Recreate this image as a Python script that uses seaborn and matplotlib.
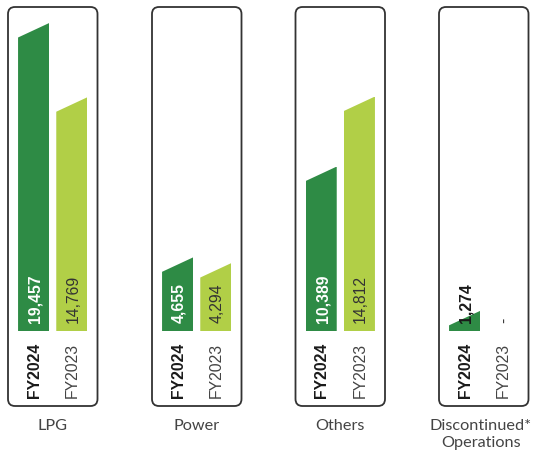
import numpy as np
import pandas as pd
import matplotlib
matplotlib.use("Agg")
import matplotlib.pyplot as plt
import seaborn as sns
from matplotlib.patches import FancyBboxPatch, Polygon
from matplotlib.transforms import IdentityTransform

# Segment results (FY2024 vs FY2023)
segments = ["LPG", "Power", "Others", "Discontinued*\nOperations"]
years = ["FY2024", "FY2023"]
fy2024 = [19457, 4655, 10389, 1274]
fy2023 = [14769, 4294, 14812, np.nan]

dark_green = "#2E8B45"
light_green = "#B1CF47"

df = pd.DataFrame({
    "segment": np.repeat(segments, 2),
    "year": years * len(segments),
    "value": [v for pair in zip(fy2024, fy2023) for v in pair],
})

sns.set_theme(style="white")
plt.rcParams["font.family"] = ["Liberation Sans", "DejaVu Sans"]

W, H = 534, 456
fig = plt.figure(figsize=(W / 100, H / 100), dpi=100)

# layout in pixels (from the top edge)
box_left = [8, 152, 295.5, 439]
box_w = 89.5
box_top, box_bottom = 8, 407
base = 332
px_per_unit = 0.01583
ymax = (base - box_top) / px_per_unit
slant_px = 14.5
label_shift = [0, 0, 0, -3]

for i, seg in enumerate(segments):
    ax = fig.add_axes([box_left[i] / W, (H - base) / H, box_w / W, (base - box_top) / H])
    sub = df[df["segment"] == seg]
    sns.barplot(data=sub, x="year", y="value", hue="year", order=years, hue_order=years,
                palette=[dark_green, light_green], width=31 / 38, saturation=1,
                errorbar=None, legend=False, linewidth=0, ax=ax)
    ax.set_xlim(-0.671, 1.671)
    ax.set_ylim(0, ymax)
    ax.axis("off")

    # slanted tops: clip each bar with its own sloped outline
    slant = slant_px / px_per_unit
    for p in ax.patches:
        h = p.get_height()
        if not np.isfinite(h) or h <= 0:
            continue
        x0, w = p.get_x(), p.get_width()
        clip = Polygon([(x0, 0), (x0 + w, 0), (x0 + w, h), (x0, max(h - slant, 0))],
                       closed=True, transform=ax.transData)
        p.set_clip_path(clip)

    # value labels inside bars and year labels under them
    for j, (yr, val) in enumerate(zip(years, [fy2024[i], fy2023[i]])):
        bold = yr == "FY2024"
        if np.isfinite(val):
            txt = f"{val:,.0f}"
            if bold:
                col = "white" if val > 3000 else "#1a1a1a"
            else:
                col = "#333333"
        else:
            txt = "-"
            col = "#333333"
        ax.annotate(txt, xy=(j, 0), xytext=(1, 6.5), textcoords="offset points",
                    rotation=90, ha="center", va="bottom", fontsize=11.3,
                    fontweight="bold" if bold else "normal", color=col,
                    annotation_clip=False)
        ax.annotate(yr, xy=(j, 0), xytext=(0.5, -7.5), textcoords="offset points",
                    rotation=90, ha="center", va="top", fontsize=11.3,
                    fontweight="bold" if bold else "normal",
                    color="#1a1a1a" if bold else "#444444",
                    annotation_clip=False)

    # rounded panel frame
    frame = FancyBboxPatch((box_left[i], H - box_bottom), box_w, box_bottom - box_top,
                           boxstyle="round,pad=0,rounding_size=7",
                           transform=IdentityTransform(), fill=False,
                           edgecolor="#333333", linewidth=1.3)
    fig.add_artist(frame)

    fig.text((box_left[i] + box_w / 2 + label_shift[i]) / W, (H - 419) / H, seg,
             ha="center", va="top", fontsize=11.7, family=["Lato", "DejaVu Sans"],
             color="#444444", linespacing=1.3)

fig.savefig("out.png", dpi=100, facecolor="white")
